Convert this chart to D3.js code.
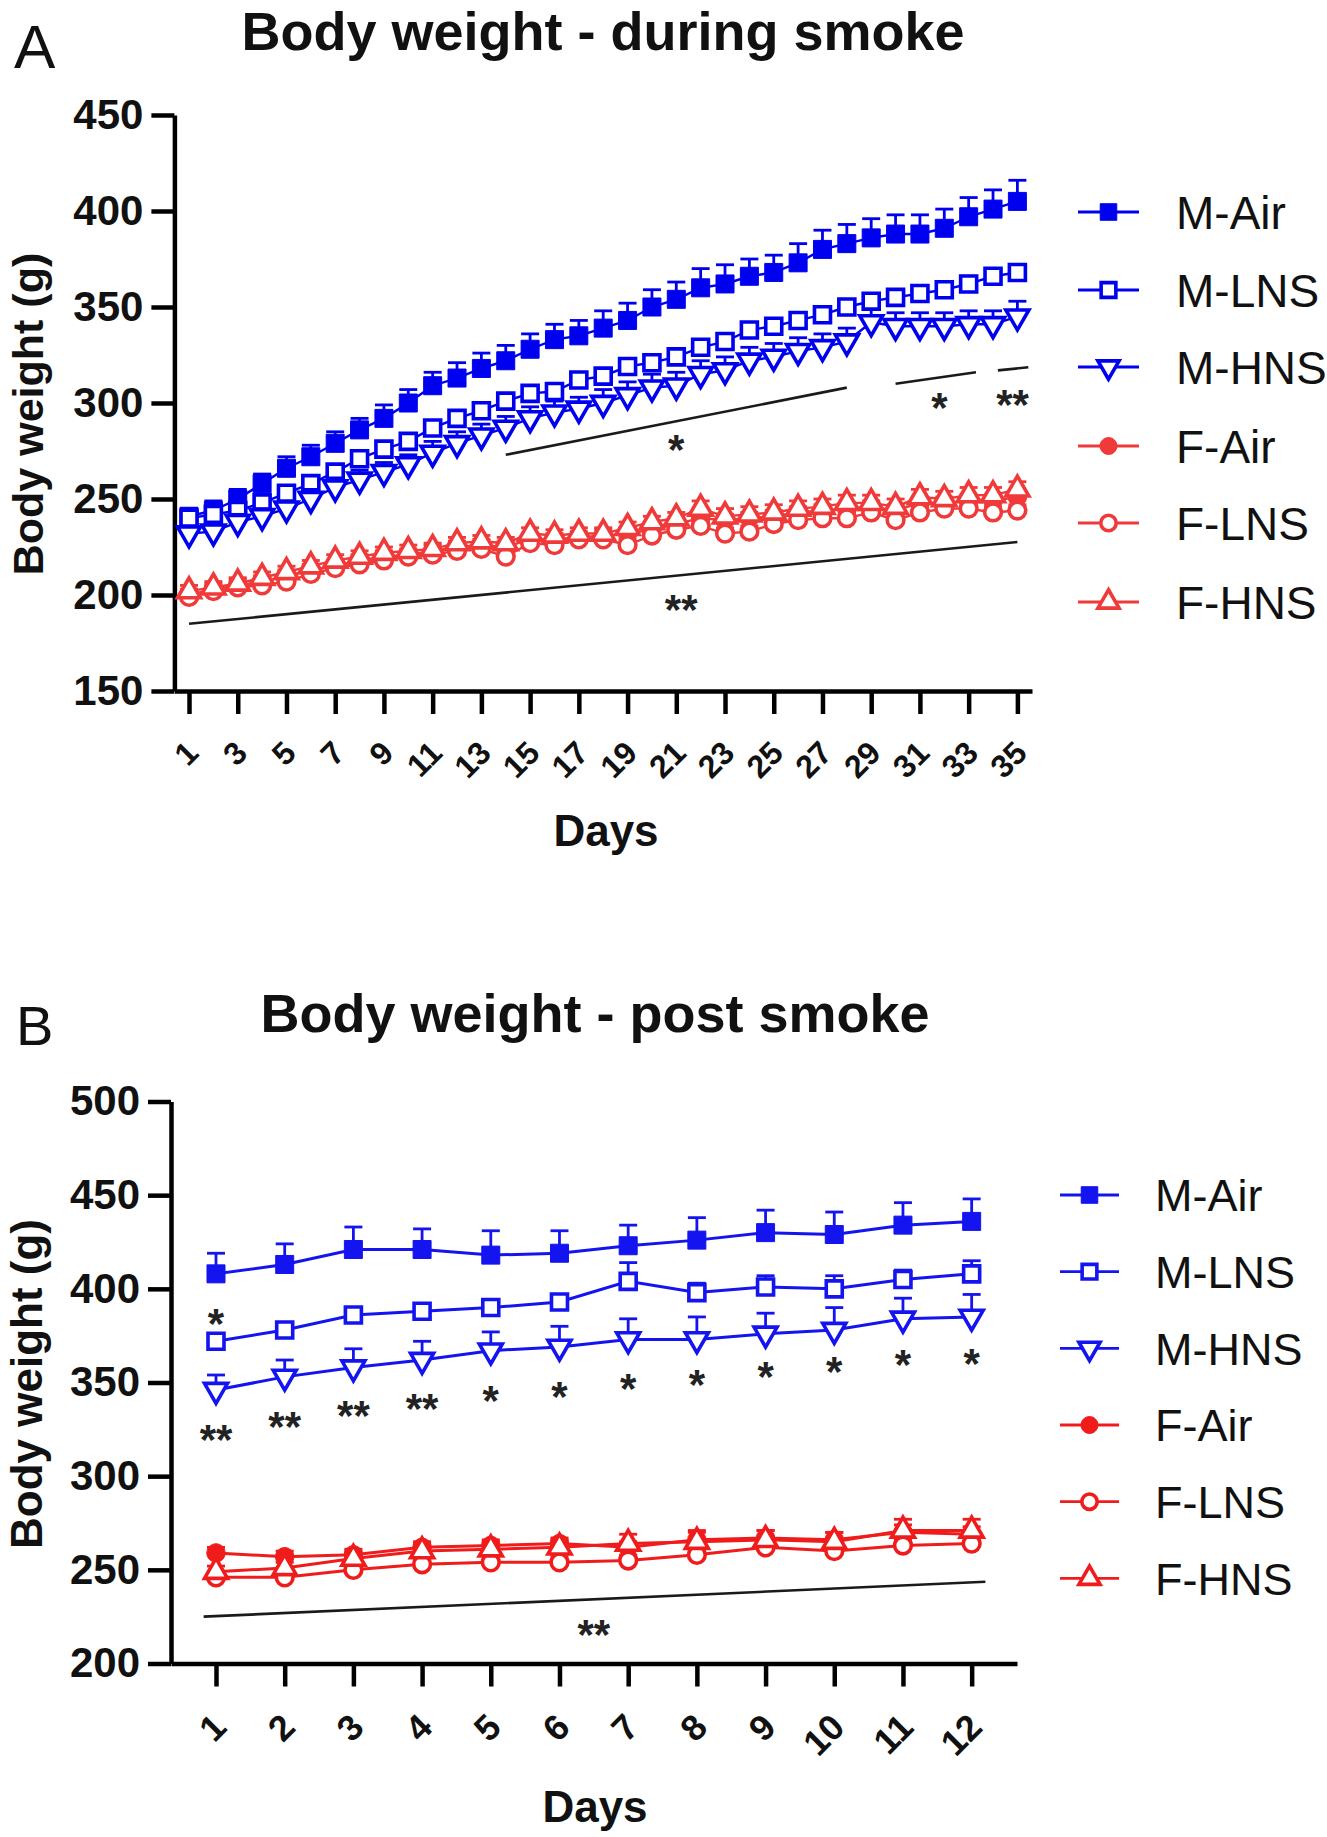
<!DOCTYPE html>
<html>
<head>
<meta charset="utf-8">
<script src="https://cdn.jsdelivr.net/npm/d3@7"></script>
<style>
  html, body { margin: 0; padding: 0; background: #fff; }
  svg { display: block; font-family: "Liberation Sans", Arial, Helvetica, sans-serif; }
</style>
</head>
<body>
<script>
// ---------------- DATA ----------------
const seriesNames = ["M-Air", "M-LNS", "M-HNS", "F-Air", "F-LNS", "F-HNS"];

// Panel A : during smoke
const daysA = [1,2,3,4,5,6,7,8,9,10,11,12,13,14,15,16,17,18,19,20,21,22,23,24,25,26,27,28,29,30,31,32,33,34,35];
const xTicksA = [1,3,5,7,9,11,13,15,17,19,21,23,25,27,29,31,33,35];
const yTicksA = [150,200,250,300,350,400,450];
const mAirA = [241,244,250,258,266,272,279,286,292,300,309,313,318,322,328,333,335,339,343,350,354,360,362,366,368,373,380,383,386,388,388,391,397,401,405];
const mAirAErr = [4,5,5,5,6,6,6,6,7,7,7,8,8,8,8,8,8,9,9,9,9,10,10,9,9,10,10,10,10,10,10,10,10,10,11];
const mLnsA = [240,242,244,248,253,258,264,271,276,280,287,292,296,301,305,306,312,314,319,321,324,329,332,338,340,343,346,350,353,355,357,359,362,366,368];
const mLnsAErr = [3,3,3,3,3,3,3,3,3,3,3,3,3,3,3,3,3,3,3,3,3,3,3,3,3,3,3,3,4,4,4,4,4,4,4];
const mHnsA = [232,233,238,241,245,250,256,260,264,268,274,279,283,287,292,295,297,300,304,308,309,315,317,322,324,327,329,332,342,340,340,340,341,341,345];
const mHnsAErr = [4,4,4,4,4,5,5,5,5,5,6,6,6,6,6,6,6,7,7,7,7,7,7,7,7,7,7,7,7,7,7,7,7,7,8];
const fAirA = [200,203,205,207,210,213,215,218,220,221,223,225,226,225,229,229,230,231,232,234,237,240,239,240,241,243,244,245,246,244,248,248,249,249,251];
const fAirAErr = [3,3,3,3,3,3,3,3,3,3,3,3,3,3,3,3,3,3,3,3,3,3,3,3,3,3,3,3,3,3,3,3,3,3,3];
const fLnsA = [199,202,204,205,207,211,214,216,218,220,221,223,224,220,227,226,229,229,226,231,234,236,232,233,237,239,240,240,243,239,243,245,245,243,244];
const fLnsAErr = [3,3,3,3,3,3,3,3,3,3,3,3,3,3,3,3,3,3,3,3,3,3,3,3,3,3,3,3,3,3,3,3,3,3,3];
const fHnsA = [202,204,206,209,212,215,218,220,222,223,224,227,228,227,232,231,232,232,235,238,240,245,241,242,243,245,246,248,248,246,251,250,252,252,255];
const fHnsAErr = [3,3,3,3,3,3,3,3,3,3,3,3,3,3,3,3,3,3,3,3,3,4,4,4,4,4,4,4,4,4,4,4,4,4,4];
// significance bars (day, weight) and their labels
const sigLinesA = [
  { x1: 14, y1: 273, x2: 28, y2: 308 },
  { x1: 30, y1: 310, x2: 33.3, y2: 316 },
  { x1: 34.2, y1: 317, x2: 35.45, y2: 318.6 },
  { x1: 1, y1: 185, x2: 35, y2: 227.6 }
];
const sigStarsA = [
  { day: 21.0, w: 281, label: "*" },
  { day: 31.8, w: 302.6, label: "*" },
  { day: 34.8, w: 304.2, label: "**" },
  { day: 21.2, w: 197.4, label: "**" }
];

// Panel B : post smoke
const daysB = [1,2,3,4,5,6,7,8,9,10,11,12];
const xTicksB = [1,2,3,4,5,6,7,8,9,10,11,12];
const yTicksB = [200,250,300,350,400,450,500];
const mAirB = [408,413,421,421,418,419,423,426,430,429,434,436];
const mAirBErr = [11,11,12,11,13,12,11,12,12,12,12,12];
const mLnsB = [372,378,386,388,390,393,404,398,401,400,405,408];
const mLnsBErr = [3,3,4,4,4,4,10,5,6,7,5,7];
const mHnsB = [346,353,358,362,367,369,373,373,376,378,384,385];
const mHnsBErr = [8,9,10,10,10,11,11,12,11,12,11,12];
const fAirB = [259,257,258,262,263,264,262,266,267,266,270,269];
const fAirBErr = [3,3,3,3,3,3,3,4,4,4,4,4];
const fLnsB = [246,246,250,253,254,254,255,258,262,260,263,264];
const fLnsBErr = [3,3,3,3,3,3,3,3,3,3,3,3];
const fHnsB = [249,251,256,260,261,262,264,265,266,265,271,271];
const fHnsBErr = [3,3,4,4,4,4,5,6,5,5,6,6];
const sigLinesB = [
  { x1: 0.82, y1: 225, x2: 12.2, y2: 243.6 }
];
const sigStarsB = [
  { day: 1, w: 387, label: "*" },
  { day: 1, w: 324.6, label: "**" },
  { day: 2, w: 331.7, label: "**" },
  { day: 3, w: 337.4, label: "**" },
  { day: 4, w: 341.5, label: "**" },
  { day: 5, w: 345.6, label: "*" },
  { day: 6, w: 348, label: "*" },
  { day: 7, w: 352.2, label: "*" },
  { day: 8, w: 354.3, label: "*" },
  { day: 9, w: 358.4, label: "*" },
  { day: 10, w: 361, label: "*" },
  { day: 11, w: 365, label: "*" },
  { day: 12, w: 365.5, label: "*" },
  { day: 6.5, w: 220.5, label: "**" }
];

// ---------------- DRAWING ----------------
const W = 1327, H = 1837;
const svg = d3.select("body").append("svg").attr("width", W).attr("height", H);
svg.append("rect").attr("width", W).attr("height", H).attr("fill", "#fff");

const markerDefs = [
  { type: d3.symbolSquare,   size: 324, open: false, rot: 0 },
  { type: d3.symbolSquare,   size: 256, open: true,  rot: 0 },
  { type: d3.symbolTriangle, size: 230, open: true,  rot: 180 },
  { type: d3.symbolCircle,   size: 270, open: false, rot: 0 },
  { type: d3.symbolCircle,   size: 220, open: true,  rot: 0 },
  { type: d3.symbolTriangle, size: 230, open: true,  rot: 0 }
];

function drawMarker(g, idx, cx, cy, color, scale) {
  const m = markerDefs[idx];
  g.append("path")
    .attr("d", d3.symbol(m.type, m.size * scale * scale)())
    .attr("transform", `translate(${cx},${cy}) rotate(${m.rot})`)
    .attr("fill", m.open ? "#fff" : color)
    .attr("stroke", color)
    .attr("stroke-width", m.open ? 3.6 : 1);
}

function drawPanel(cfg) {
  const g = svg.append("g");
  const x = d3.scaleLinear().domain(cfg.xDomain).range(cfg.xRange);
  const y = d3.scaleLinear().domain(cfg.yDomain).range(cfg.yRange);

  // panel letter and title
  g.append("text").attr("x", cfg.letterPos[0]).attr("y", cfg.letterPos[1])
    .attr("font-size", cfg.letterSize).attr("fill", "#111").text(cfg.letter);
  g.append("text").attr("x", cfg.titlePos[0]).attr("y", cfg.titlePos[1])
    .attr("text-anchor", "middle").attr("font-size", cfg.titleSize).attr("font-weight", "bold")
    .attr("fill", "#111").text(cfg.title);

  // axes
  const yAxis = d3.axisLeft(y).tickValues(cfg.yTicks).tickSize(23).tickPadding(8).tickSizeOuter(0);
  const ya = g.append("g").attr("transform", `translate(${cfg.xRange[0]},0)`).call(yAxis);
  ya.select(".domain").attr("stroke", "#000").attr("stroke-width", 4.5);
  ya.selectAll(".tick line").attr("stroke", "#000").attr("stroke-width", 4.5);
  ya.selectAll(".tick text").attr("font-size", 42).attr("font-weight", "bold")
    .attr("font-family", "Liberation Sans, Arial, sans-serif").attr("fill", "#111");

  const xAxis = d3.axisBottom(x).tickValues(cfg.xTicks).tickSize(23).tickSizeOuter(0);
  const xa = g.append("g").attr("transform", `translate(0,${cfg.yRange[0]})`).call(xAxis);
  xa.select(".domain").attr("stroke", "#000").attr("stroke-width", 4.5);
  xa.selectAll(".tick line").attr("stroke", "#000").attr("stroke-width", 4.5);
  xa.selectAll(".tick text")
    .attr("font-size", cfg.xTickSize).attr("font-weight", "bold")
    .attr("font-family", "Liberation Sans, Arial, sans-serif").attr("fill", "#111")
    .attr("x", 0).attr("y", 0).attr("dy", "0.35em")
    .attr("text-anchor", "end")
    .attr("transform", `translate(3,${cfg.xLabelOffset}) rotate(-45)`);

  // axis titles
  g.append("text").attr("x", cfg.xTitlePos[0]).attr("y", cfg.xTitlePos[1])
    .attr("text-anchor", "middle").attr("font-size", 44).attr("font-weight", "bold")
    .attr("fill", "#111").text("Days");
  g.append("text")
    .attr("transform", `translate(${cfg.yTitlePos[0]},${cfg.yTitlePos[1]}) rotate(-90)`)
    .attr("text-anchor", "middle").attr("font-size", cfg.yTitleSize).attr("font-weight", "bold")
    .attr("fill", "#111").text("Body weight (g)");

  // data series
  cfg.series.forEach((s, i) => {
    const color = i < 3 ? cfg.blue : cfg.red;
    const sg = g.append("g");
    const pts = cfg.days.map((d, k) => [x(d), y(s.v[k])]);
    sg.append("path").attr("d", d3.line()(pts))
      .attr("fill", "none").attr("stroke", color).attr("stroke-width", cfg.lineWidth);
    cfg.days.forEach((d, k) => {
      const cx = x(d), cy = y(s.v[k]), ty = y(s.v[k] + s.e[k]);
      sg.append("line").attr("x1", cx).attr("x2", cx).attr("y1", cy).attr("y2", ty)
        .attr("stroke", color).attr("stroke-width", 2.8);
      sg.append("line").attr("x1", cx - 9).attr("x2", cx + 9).attr("y1", ty).attr("y2", ty)
        .attr("stroke", color).attr("stroke-width", 2.8);
    });
    cfg.days.forEach((d, k) => drawMarker(sg, i, x(d), y(s.v[k]), color, cfg.markerScale));
  });

  // significance lines & stars
  cfg.sigLines.forEach(l => {
    g.append("line").attr("x1", x(l.x1)).attr("y1", y(l.y1)).attr("x2", x(l.x2)).attr("y2", y(l.y2))
      .attr("stroke", "#1a1a1a").attr("stroke-width", 2.6);
  });
  const starSize = 42;
  cfg.sigStars.forEach(s => {
    g.append("text").attr("x", x(s.day)).attr("y", y(s.w) + 0.58 * starSize)
      .attr("text-anchor", "middle").attr("font-size", starSize).attr("font-weight", "bold")
      .attr("fill", "#222").text(s.label);
  });

  // legend
  cfg.legendRows.forEach((ry, i) => {
    const color = i < 3 ? cfg.blue : cfg.red;
    g.append("line").attr("x1", cfg.legendLine[0]).attr("x2", cfg.legendLine[1])
      .attr("y1", ry).attr("y2", ry).attr("stroke", color).attr("stroke-width", 2.8);
    drawMarker(g, i, (cfg.legendLine[0] + cfg.legendLine[1]) / 2, ry, color, 0.92);
    g.append("text").attr("x", cfg.legendTextX).attr("y", ry + 0.36 * cfg.legendSize)
      .attr("font-size", cfg.legendSize).attr("fill", "#111").text(seriesNames[i]);
  });
}

// Panel A
drawPanel({
  letter: "A", letterPos: [14, 68], letterSize: 62,
  title: "Body weight - during smoke", titlePos: [603, 50], titleSize: 54,
  xDomain: [0.4, 35.6], xRange: [174.4, 1032],
  yDomain: [150, 450], yRange: [691, 115],
  xTicks: xTicksA, yTicks: yTicksA, xTickSize: 32, xLabelOffset: 56,
  xTitlePos: [606, 846], yTitlePos: [43, 414], yTitleSize: 43,
  days: daysA, markerScale: 1.0,
  series: [
    { v: mAirA, e: mAirAErr }, { v: mLnsA, e: mLnsAErr }, { v: mHnsA, e: mHnsAErr },
    { v: fAirA, e: fAirAErr }, { v: fLnsA, e: fLnsAErr }, { v: fHnsA, e: fHnsAErr }
  ],
  blue: "#0000f0", red: "#f03a3a", lineWidth: 2.4,
  sigLines: sigLinesA, sigStars: sigStarsA,
  legendRows: [212, 290, 367, 446, 523, 602], legendLine: [1078, 1139], legendTextX: 1176, legendSize: 46
});

// Panel B
drawPanel({
  letter: "B", letterPos: [16, 1045], letterSize: 56,
  title: "Body weight - post smoke", titlePos: [595, 1032], titleSize: 54,
  xDomain: [0.345, 12.66], xRange: [171, 1017],
  yDomain: [200, 500], yRange: [1663.5, 1101.5],
  xTicks: xTicksB, yTicks: yTicksB, xTickSize: 36, xLabelOffset: 57,
  xTitlePos: [595, 1822], yTitlePos: [42, 1384], yTitleSize: 44,
  days: daysB, markerScale: 1.0,
  series: [
    { v: mAirB, e: mAirBErr }, { v: mLnsB, e: mLnsBErr }, { v: mHnsB, e: mHnsBErr },
    { v: fAirB, e: fAirBErr }, { v: fLnsB, e: fLnsBErr }, { v: fHnsB, e: fHnsBErr }
  ],
  blue: "#1414f0", red: "#f01c1c", lineWidth: 3,
  sigLines: sigLinesB, sigStars: sigStarsB,
  legendRows: [1195, 1271.7, 1348.3, 1425, 1501.7, 1578.3], legendLine: [1060, 1119], legendTextX: 1155, legendSize: 45
});
</script>
</body>
</html>
